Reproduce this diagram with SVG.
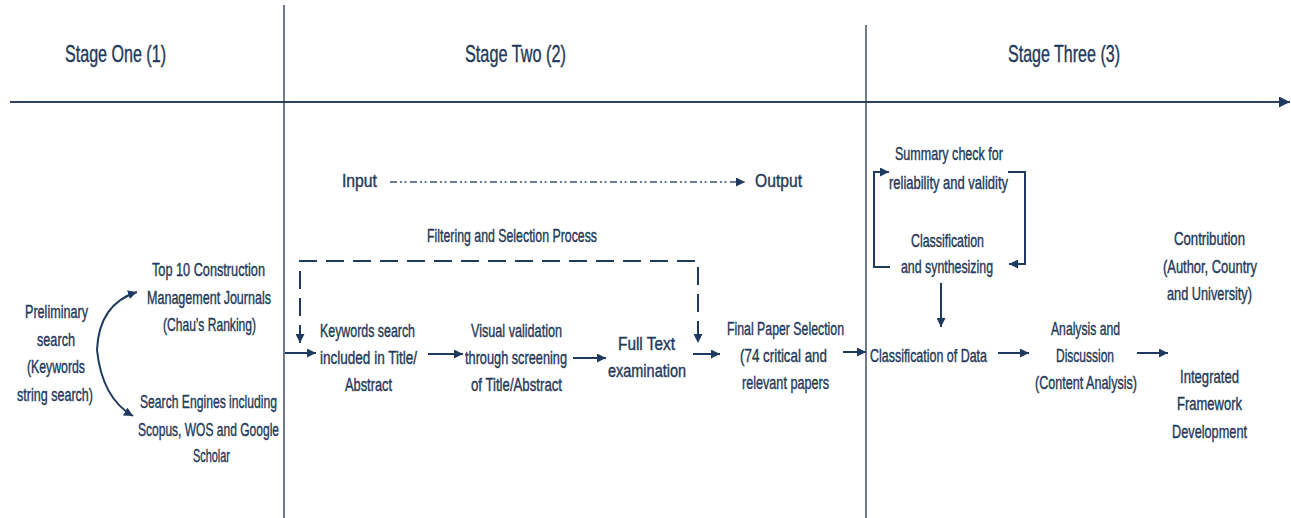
<svg xmlns="http://www.w3.org/2000/svg" width="1291" height="518" viewBox="0 0 1291 518">
  <style>
    text { font-family: "Liberation Sans", Arial, sans-serif; fill: #23395a; stroke: #23395a; stroke-width: 0.4; text-anchor: middle; }
    .hdr { font-size: 24px; }
    .lbl { font-size: 18.5px; }
    .axis { stroke: #2f4360; stroke-width: 2; fill: none; }
    .div { stroke: #22344f; stroke-width: 1.3; fill: none; }
    .flow { stroke: #1f3a5f; stroke-width: 2; fill: none; marker-end: url(#tip); }
    .io { stroke: #3b5170; stroke-width: 1.6; fill: none; stroke-dasharray: 7 3 2 2.5 2 3.5; }
    .filter { stroke: #1f3a5f; stroke-width: 2; fill: none; stroke-dasharray: 18 9; }
  </style>
  <defs>
    <marker id="tip" viewBox="0 0 10 10" refX="10" refY="5" markerUnits="userSpaceOnUse" markerWidth="9" markerHeight="9" orient="auto-start-reverse">
      <path d="M0,0 L10,5 L0,10 z" fill="#1f3a5f"/>
    </marker>
    <marker id="axisTip" viewBox="0 0 10 10" refX="10" refY="5" markerUnits="userSpaceOnUse" markerWidth="11" markerHeight="11" orient="auto">
      <path d="M0,0 L10,5 L0,10 z" fill="#1f3a5f"/>
    </marker>
  </defs>

  <rect width="1291" height="518" fill="#ffffff"/>

  <!-- timeline axis and stage dividers -->
  <g id="frame">
    <line class="axis" x1="10" y1="102" x2="1290" y2="102" marker-end="url(#axisTip)"/>
    <line class="div" x1="284" y1="5" x2="284" y2="518"/>
    <line class="div" x1="866" y1="25" x2="866" y2="518"/>
  </g>

  <!-- stage headings -->
  <g id="stage-one"><text class="hdr" x="115.5" y="62" textLength="101" lengthAdjust="spacingAndGlyphs">Stage One (1)</text></g>
  <g id="stage-two"><text class="hdr" x="515.5" y="62" textLength="101" lengthAdjust="spacingAndGlyphs">Stage Two (2)</text></g>
  <g id="stage-three"><text class="hdr" x="1064" y="62" textLength="112" lengthAdjust="spacingAndGlyphs">Stage Three (3)</text></g>

  <!-- stage one -->
  <g id="preliminary-search">
    <text class="lbl" x="56.5" y="318" textLength="63" lengthAdjust="spacingAndGlyphs">Preliminary</text>
    <text class="lbl" x="56" y="346" textLength="38" lengthAdjust="spacingAndGlyphs">search</text>
    <text class="lbl" x="56" y="373" textLength="58" lengthAdjust="spacingAndGlyphs">(Keywords</text>
    <text class="lbl" x="55" y="401" textLength="76" lengthAdjust="spacingAndGlyphs">string search)</text>
  </g>
  <g id="top-journals">
    <text class="lbl" x="208.5" y="276" textLength="113" lengthAdjust="spacingAndGlyphs">Top 10 Construction</text>
    <text class="lbl" x="209" y="304" textLength="124" lengthAdjust="spacingAndGlyphs">Management Journals</text>
    <text class="lbl" x="209.5" y="331" textLength="93" lengthAdjust="spacingAndGlyphs">(Chau’s Ranking)</text>
  </g>
  <g id="search-engines">
    <text class="lbl" x="208.5" y="408" textLength="137" lengthAdjust="spacingAndGlyphs">Search Engines including</text>
    <text class="lbl" x="208.5" y="436" textLength="141" lengthAdjust="spacingAndGlyphs">Scopus, WOS and Google</text>
    <text class="lbl" x="211.5" y="462" textLength="37" lengthAdjust="spacingAndGlyphs">Scholar</text>
  </g>

  <!-- stage two -->
  <g id="input"><text class="lbl" x="359.5" y="187" textLength="35" lengthAdjust="spacingAndGlyphs">Input</text></g>
  <g id="output"><text class="lbl" x="778.5" y="187" textLength="47" lengthAdjust="spacingAndGlyphs">Output</text></g>
  <g id="filtering-label"><text class="lbl" x="512" y="242" textLength="170" lengthAdjust="spacingAndGlyphs">Filtering and Selection Process</text></g>
  <g id="keywords-search">
    <text class="lbl" x="367.5" y="337" textLength="95" lengthAdjust="spacingAndGlyphs">Keywords search</text>
    <text class="lbl" x="368.5" y="364" textLength="97" lengthAdjust="spacingAndGlyphs">included in Title/</text>
    <text class="lbl" x="368.5" y="391" textLength="47" lengthAdjust="spacingAndGlyphs">Abstract</text>
  </g>
  <g id="visual-validation">
    <text class="lbl" x="516.5" y="337" textLength="91" lengthAdjust="spacingAndGlyphs">Visual validation</text>
    <text class="lbl" x="516" y="364" textLength="102" lengthAdjust="spacingAndGlyphs">through screening</text>
    <text class="lbl" x="516.5" y="391" textLength="91" lengthAdjust="spacingAndGlyphs">of Title/Abstract</text>
  </g>
  <g id="full-text">
    <text class="lbl" x="646.5" y="350" textLength="57" lengthAdjust="spacingAndGlyphs">Full Text</text>
    <text class="lbl" x="647" y="377" textLength="78" lengthAdjust="spacingAndGlyphs">examination</text>
  </g>
  <g id="final-selection">
    <text class="lbl" x="785.5" y="335" textLength="117" lengthAdjust="spacingAndGlyphs">Final Paper Selection</text>
    <text class="lbl" x="783.5" y="362" textLength="87" lengthAdjust="spacingAndGlyphs">(74 critical and</text>
    <text class="lbl" x="785.5" y="389" textLength="87" lengthAdjust="spacingAndGlyphs">relevant papers</text>
  </g>

  <!-- stage three -->
  <g id="summary-check">
    <text class="lbl" x="949" y="160" textLength="108" lengthAdjust="spacingAndGlyphs">Summary check for</text>
    <text class="lbl" x="948.5" y="189" textLength="119" lengthAdjust="spacingAndGlyphs">reliability and validity</text>
  </g>
  <g id="classification-synthesizing">
    <text class="lbl" x="947.5" y="247" textLength="73" lengthAdjust="spacingAndGlyphs">Classification</text>
    <text class="lbl" x="947" y="273" textLength="92" lengthAdjust="spacingAndGlyphs">and synthesizing</text>
  </g>
  <g id="classification-data">
    <text class="lbl" x="928.5" y="362" textLength="117" lengthAdjust="spacingAndGlyphs">Classification of Data</text>
  </g>
  <g id="analysis">
    <text class="lbl" x="1085.5" y="335" textLength="69" lengthAdjust="spacingAndGlyphs">Analysis and</text>
    <text class="lbl" x="1085" y="362" textLength="58" lengthAdjust="spacingAndGlyphs">Discussion</text>
    <text class="lbl" x="1086" y="389" textLength="102" lengthAdjust="spacingAndGlyphs">(Content Analysis)</text>
  </g>
  <g id="contribution">
    <text class="lbl" x="1209.5" y="245" textLength="71" lengthAdjust="spacingAndGlyphs">Contribution</text>
    <text class="lbl" x="1210" y="273" textLength="94" lengthAdjust="spacingAndGlyphs">(Author, Country</text>
    <text class="lbl" x="1209.5" y="300" textLength="85" lengthAdjust="spacingAndGlyphs">and University)</text>
  </g>
  <g id="framework">
    <text class="lbl" x="1209.5" y="383" textLength="59" lengthAdjust="spacingAndGlyphs">Integrated</text>
    <text class="lbl" x="1209.5" y="410" textLength="65" lengthAdjust="spacingAndGlyphs">Framework</text>
    <text class="lbl" x="1209.5" y="438" textLength="75" lengthAdjust="spacingAndGlyphs">Development</text>
  </g>

  <!-- connectors -->
  <g id="connectors">
    <path class="flow" d="M97,350 Q99,304 137,292"/>
    <path class="flow" d="M97,350 Q102,398 133,416"/>
    <path class="io" d="M390,182 H745" marker-end="url(#tip)"/>
    <path class="filter" d="M300,343 V261 H698 V343" marker-start="url(#tip)" marker-end="url(#tip)"/>
    <path class="flow" d="M285,353 H316"/>
    <path class="flow" d="M428,354 H463"/>
    <path class="flow" d="M573,358 H606"/>
    <path class="flow" d="M693,354 H720"/>
    <path class="flow" d="M843,352 H866"/>
    <path class="flow" d="M998,353 H1029"/>
    <path class="flow" d="M1137,353 H1168"/>
    <path class="flow" d="M941,283 V327"/>
    <path class="flow" d="M890,267 H874 V172 H889"/>
    <path class="flow" d="M1008,172 H1025 V264 H1009"/>
  </g>
</svg>
